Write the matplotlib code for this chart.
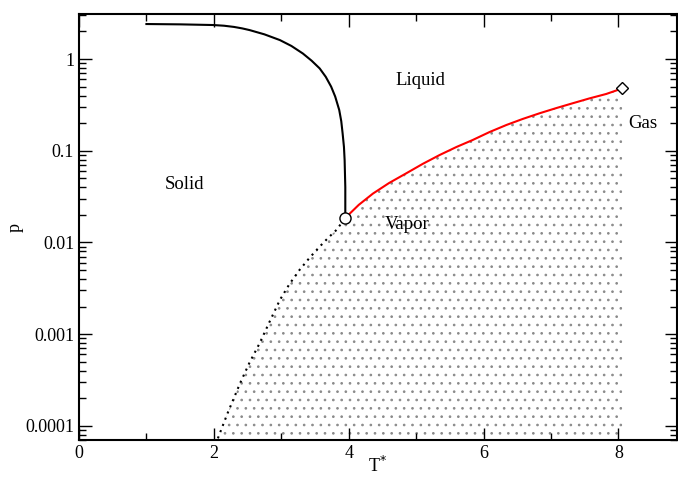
import numpy as np
import matplotlib
matplotlib.use('Agg')
from matplotlib import pyplot as plt

plt.rcParams['font.family'] = ['Liberation Serif', 'DejaVu Serif']
plt.rcParams['hatch.linewidth'] = 0.7
plt.rcParams['hatch.color'] = '#8a8a8a'

# melting line (solid-liquid)
melt_T = [1.0, 1.5, 1.99, 2.15, 2.3, 2.42, 2.53, 2.75, 2.98, 3.15, 3.32, 3.45, 3.57, 3.66, 3.74, 3.8, 3.86, 3.89, 3.91, 3.93, 3.94, 3.95, 3.95]
melt_p = [2.41, 2.39, 2.35, 2.31, 2.24, 2.16, 2.07, 1.86, 1.61, 1.39, 1.15, 0.96, 0.79, 0.64, 0.50, 0.39, 0.278, 0.21, 0.155, 0.11, 0.079, 0.04, 0.0185]

# vapor pressure (liquid-vapor)
vap_T = [3.95, 4.15, 4.36, 4.6, 4.85, 5.1, 5.35, 5.6, 5.84, 6.09, 6.34, 6.58, 6.83, 7.08, 7.32, 7.57, 7.82, 8.06]
vap_p = [0.0185, 0.0257, 0.0341, 0.0445, 0.0565, 0.072, 0.0899, 0.11, 0.131, 0.16, 0.191, 0.222, 0.256, 0.292, 0.329, 0.372, 0.416, 0.479]

# sublimation line (solid-vapor)
sub_T = [2.06, 2.2, 2.39, 2.53, 2.68, 2.83, 2.98, 3.12, 3.27, 3.42, 3.57, 3.7, 3.82, 3.95]
sub_p = [7.3e-05, 0.000135, 0.000292, 0.00049, 0.000797, 0.00138, 0.00236, 0.0035, 0.0050, 0.0068, 0.0090, 0.0113, 0.0137, 0.0185]

triple = (3.95, 0.0185)
critical = (8.06, 0.479)

labels = ['Solid', 'Liquid', 'Vapor', 'Gas']
label_T = [1.57, 5.07, 4.87, 8.36]
label_p = [0.043, 0.59, 0.0156, 0.2]

fig = plt.figure(figsize=(6.78, 4.8), dpi=100)
ax = fig.add_axes([79/678, 40/480, 598/678, 426/480])

# shaded vapor region
fill_T = sub_T[:-1] + vap_T
fill_p = sub_p[:-1] + vap_p
ax.fill_between(fill_T, 1e-6, fill_p, facecolor='none', edgecolor='#8a8a8a',
                hatch='..', linewidth=0)

ax.plot(melt_T, melt_p, color='black', lw=1.5)
ax.plot(vap_T, vap_p, color='red', lw=1.5)
ax.plot(sub_T, sub_p, color='black', lw=1.5, ls=(0, (1, 2.2)))

ax.plot(*triple, 'o', ms=8, mfc='white', mec='black', mew=1.0, zorder=5)
ax.plot(*critical, 'D', ms=6.5, mfc='white', mec='black', mew=1.0, zorder=5)

for s, t, p in zip(labels, label_T, label_p):
    ax.text(t, p, s, fontsize=13.5, ha='center', va='center')

ax.set_yscale('log')
ax.set_xlim(0, 8.87)
ax.set_ylim(7e-05, 3.1)
ax.set_xticks([0, 2, 4, 6, 8])
ax.set_xticks([1, 3, 5, 7], minor=True)
ax.set_yticks([1e-4, 1e-3, 1e-2, 1e-1, 1])
ax.set_yticklabels(['0.0001', '0.001', '0.01', '0.1', '1'])
ax.tick_params(which='both', direction='in', top=True, right=True, labelsize=13, width=1)
ax.tick_params(which='major', length=9)
ax.tick_params(which='minor', length=5)
for sp in ax.spines.values():
    sp.set_linewidth(1.5)

ax.set_xlabel('T$^{*}$', fontsize=13)
ax.set_ylabel('p', fontsize=13)
ax.xaxis.set_label_coords(0.5, -0.038)
ax.yaxis.set_label_coords(-0.093, 0.5)

plt.savefig('out.png', dpi=100)
